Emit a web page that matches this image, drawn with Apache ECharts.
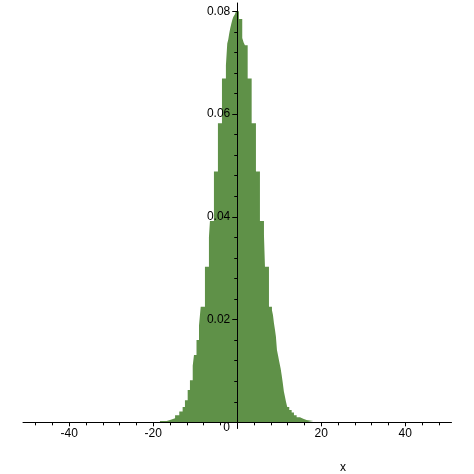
<!DOCTYPE html>
<html>
<head>
<meta charset="utf-8">
<script src="https://cdn.jsdelivr.net/npm/echarts@6/dist/echarts.min.js"></script>
<style>html,body{margin:0;padding:0;background:#fff}#c{width:474px;height:474px}</style>
</head>
<body>
<div id="c"></div>
<script>
// Step outline of the histogram: each step starts at stepStart[i] with height stepHeight[i]
const stepStart = [
  -18.4, -16.8, -16.0, -14.8, -13.8, -13.0, -12.45, -11.8, -11.26, -10.6,
  -10.3, -9.7, -9.1, -8.7, -7.69, -6.74, -6.5, -5.55, -4.6, -3.64,
  -2.7, -2.38, -2.14, -1.9, -1.67, -1.43, -1.19, -0.95, -0.55, -0.3,
  0.4, 1.19, 1.52, 1.83, 2.48, 3.43, 4.45, 5.4, 6.36, 6.6,
  7.55, 8.26, 8.5, 8.74, 8.98, 9.2, 9.45, 9.76, 10.0, 10.33,
  10.57, 10.8, 11.1, 11.36, 11.6, 11.9, 12.38, 12.95, 13.5, 14.14,
  14.93, 15.7, 16.5, 18.1
];
const stepHeight = [
  0.00025, 0.00045, 0.0008, 0.0014, 0.0021, 0.0030, 0.0043, 0.0063, 0.0082, 0.0110,
  0.0131, 0.0160, 0.0189, 0.0225, 0.0303, 0.0360, 0.0392, 0.0488, 0.0582, 0.0669,
  0.0695, 0.0737, 0.0745, 0.0757, 0.0767, 0.0775, 0.0783, 0.0789, 0.0794, 0.0800,
  0.0785, 0.0748, 0.0739, 0.0734, 0.0669, 0.0582, 0.0488, 0.0392, 0.0364, 0.0303,
  0.0225, 0.0218, 0.0209, 0.0193, 0.0180, 0.0167, 0.0141, 0.0128, 0.0118, 0.0105,
  0.0092, 0.0079, 0.0060, 0.0050, 0.0040, 0.0030, 0.0024, 0.0019, 0.0014, 0.0010,
  0.0007, 0.00045, 0.00025, 0
];
const xTickLabels = [-40, -20, 20, 40];
const yTickLabels = [0.02, 0.04, 0.06, 0.08];
const xName = 'x';
const originLabel = '0';

const data = stepStart.map((x, i) => [x, stepHeight[i]]);
const font = 'Liberation Sans, Arial, sans-serif';

const X_MIN = -51, X_MAX = 51, Y_MIN = -0.0012, Y_MAX = 0.0816;
const G_LEFT = 23, G_RIGHT = 22.5, G_TOP = 3, G_BOTTOM = 45.5;
const gw = 474 - G_LEFT - G_RIGHT, gh = 474 - G_TOP - G_BOTTOM;
// offsets that put each axis on the other's zero
const yAxisOffset = -((0 - X_MIN) / (X_MAX - X_MIN) * gw);
const xAxisOffset = -((0 - Y_MIN) / (Y_MAX - Y_MIN) * gh);

const chart = echarts.init(document.getElementById('c'), null, {renderer: 'canvas'});
chart.setOption({
  animation: false,
  backgroundColor: '#ffffff',
  grid: {left: G_LEFT, right: G_RIGHT, top: G_TOP, bottom: G_BOTTOM, containLabel: false, outerBoundsMode: 'none'},
  xAxis: {
    type: 'value', min: X_MIN, max: X_MAX, position: 'bottom', offset: xAxisOffset, z: 10,
    axisLine: {show: true, onZero: false, lineStyle: {color: '#000', width: 1}},
    axisTick: {show: true, length: 4, customValues: xTickLabels, lineStyle: {color: '#000'}},
    minorTick: {show: true, splitNumber: 5, length: 3, lineStyle: {color: '#000'}},
    axisLabel: {customValues: xTickLabels, margin: 5, color: '#000', fontSize: 12, fontFamily: font,
      formatter: v => String(v)},
    splitLine: {show: false}, minorSplitLine: {show: false}
  },
  yAxis: {
    type: 'value', min: Y_MIN, max: Y_MAX, position: 'left', offset: yAxisOffset, z: 10,
    axisLine: {show: true, onZero: false, lineStyle: {color: '#000', width: 1}},
    axisTick: {show: true, length: 5, customValues: yTickLabels, lineStyle: {color: '#000'}},
    minorTick: {show: true, splitNumber: 5, length: 3, lineStyle: {color: '#000'}},
    axisLabel: {customValues: yTickLabels, margin: 7, color: '#000', fontSize: 12, fontFamily: font,
      formatter: v => v.toFixed(2)},
    splitLine: {show: false}, minorSplitLine: {show: false}
  },
  graphic: [
    {type: 'text', x: 343, y: 467.5, style: {text: xName, font: '12px ' + font, fill: '#000', align: 'center', verticalAlign: 'middle'}},
    {type: 'text', x: 230, y: 428, style: {text: originLabel, font: '12px ' + font, fill: '#000', align: 'right', verticalAlign: 'middle'}}
  ],
  series: [{
    type: 'line', step: 'end', data: data, showSymbol: false, symbol: 'none',
    lineStyle: {width: 0, color: '#5f9148'},
    areaStyle: {color: '#5f9148', opacity: 1},
    z: 1
  }]
});
</script>
</body>
</html>
